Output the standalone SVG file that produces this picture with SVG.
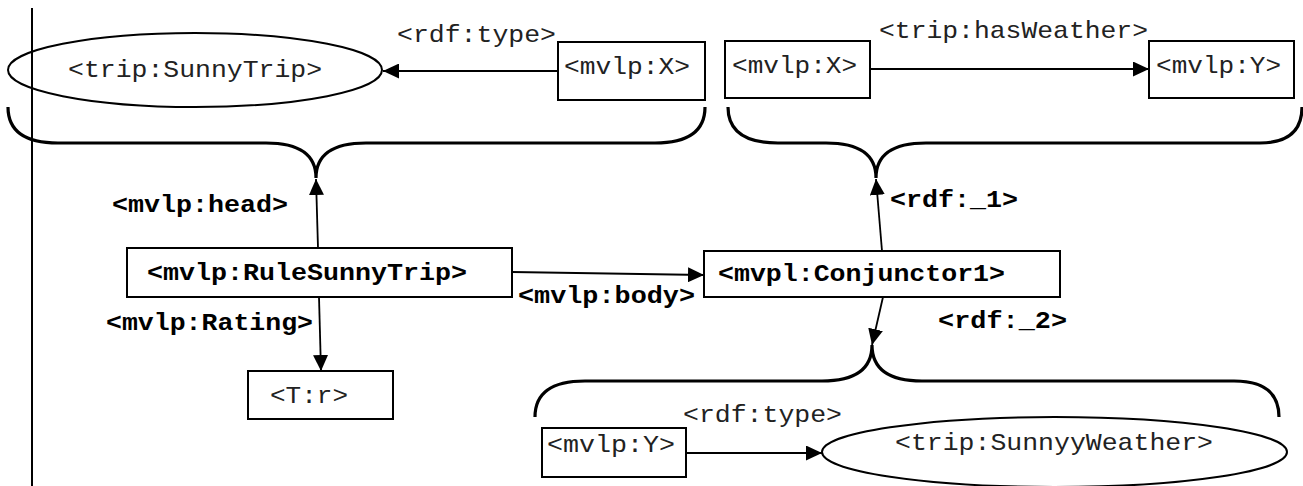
<svg xmlns="http://www.w3.org/2000/svg" width="1303" height="486" viewBox="0 0 1303 486">
  <style>
    .box { fill: #fff; stroke: #000; stroke-width: 2; }
    .ell { fill: none; stroke: #000; stroke-width: 2; }
    .brace { fill: none; stroke: #000; stroke-width: 3.2; stroke-linecap: butt; }
    .edge { fill: none; stroke: #000; stroke-width: 1.8; }
    .lit { font-family: "Liberation Mono", "Courier New", monospace; font-size: 24px; fill: #222; }
    .res { font-family: "Liberation Mono", "Courier New", monospace; font-size: 24px; font-weight: bold; fill: #000; }
  </style>
  <defs>
    <marker id="arrow" markerUnits="userSpaceOnUse" markerWidth="17" markerHeight="15" refX="16" refY="7.5" orient="auto">
      <path d="M0,0 L16,7.5 L0,15 z" fill="#000"/>
    </marker>
  </defs>

  <rect width="1303" height="486" fill="#fff"/>

  <!-- curly braces grouping the head and body statements -->
  <g id="braces">
    <path class="brace" d="M8 107 Q8 143 58 143 L266 143 Q316 143 316 178 Q316 143 366 143 L655 143 Q705 143 705 107"/>
    <path class="brace" d="M728 107 Q728 143 778 143 L826 143 Q876 143 876 178 Q876 143 926 143 L1260 143 Q1302 143 1302 107"/>
    <path class="brace" d="M535 417 Q535 381 585 381 L822 381 Q872 381 872 345 Q872 381 922 381 L1234 381 Q1279 381 1279 417"/>
  </g>

  <!-- connectors -->
  <g id="connectors">
    <line class="edge" x1="558" y1="71" x2="383" y2="71" marker-end="url(#arrow)"/>
    <line class="edge" x1="870" y1="69" x2="1149" y2="69" marker-end="url(#arrow)"/>
    <line class="edge" x1="318" y1="248" x2="316" y2="179" marker-end="url(#arrow)"/>
    <line class="edge" x1="512" y1="272" x2="704" y2="275" marker-end="url(#arrow)"/>
    <line class="edge" x1="319" y1="297" x2="321" y2="371" marker-end="url(#arrow)"/>
    <line class="edge" x1="882" y1="251" x2="876" y2="179" marker-end="url(#arrow)"/>
    <line class="edge" x1="883" y1="297" x2="872" y2="345" marker-end="url(#arrow)"/>
    <line class="edge" x1="686" y1="453" x2="822" y2="453" marker-end="url(#arrow)"/>
  </g>

  <!-- edge labels -->
  <g id="edge-labels">
    <text class="lit" x="397" y="42" textLength="159" lengthAdjust="spacingAndGlyphs">&lt;rdf:type&gt;</text>
    <text class="lit" x="879" y="38" textLength="269" lengthAdjust="spacingAndGlyphs">&lt;trip:hasWeather&gt;</text>
    <text class="res" x="112" y="212" textLength="176" lengthAdjust="spacingAndGlyphs">&lt;mvlp:head&gt;</text>
    <text class="res" x="106" y="330" textLength="207" lengthAdjust="spacingAndGlyphs">&lt;mvlp:Rating&gt;</text>
    <text class="res" x="518" y="303" textLength="177" lengthAdjust="spacingAndGlyphs">&lt;mvlp:body&gt;</text>
    <text class="res" x="890" y="207" textLength="128" lengthAdjust="spacingAndGlyphs">&lt;rdf:_1&gt;</text>
    <text class="res" x="938" y="328" textLength="129" lengthAdjust="spacingAndGlyphs">&lt;rdf:_2&gt;</text>
    <text class="lit" x="683" y="422" textLength="159" lengthAdjust="spacingAndGlyphs">&lt;rdf:type&gt;</text>
  </g>

  <g id="sunny-trip">
    <ellipse class="ell" cx="195" cy="70" rx="187" ry="37"/>
    <text class="lit" x="68" y="77" textLength="254" lengthAdjust="spacingAndGlyphs">&lt;trip:SunnyTrip&gt;</text>
  </g>

  <g id="head-x">
    <rect class="box" x="558" y="42" width="147" height="58"/>
    <text class="lit" x="564" y="74" textLength="126" lengthAdjust="spacingAndGlyphs">&lt;mvlp:X&gt;</text>
  </g>

  <g id="body-x">
    <rect class="box" x="725" y="41" width="145" height="57"/>
    <text class="lit" x="732" y="73" textLength="125" lengthAdjust="spacingAndGlyphs">&lt;mvlp:X&gt;</text>
  </g>

  <g id="body-y">
    <rect class="box" x="1149" y="41" width="145" height="57"/>
    <text class="lit" x="1156" y="73" textLength="125" lengthAdjust="spacingAndGlyphs">&lt;mvlp:Y&gt;</text>
  </g>

  <g id="rule">
    <rect class="box" x="127" y="248" width="385" height="49"/>
    <text class="res" x="147" y="280" textLength="320" lengthAdjust="spacingAndGlyphs">&lt;mvlp:RuleSunnyTrip&gt;</text>
  </g>

  <g id="rating">
    <rect class="box" x="248" y="371" width="145" height="48"/>
    <text class="lit" x="270" y="403" textLength="78" lengthAdjust="spacingAndGlyphs">&lt;T:r&gt;</text>
  </g>

  <g id="conjunctor">
    <rect class="box" x="704" y="251" width="356" height="46"/>
    <text class="res" x="718" y="281" textLength="287" lengthAdjust="spacingAndGlyphs">&lt;mvpl:Conjunctor1&gt;</text>
  </g>

  <g id="weather-y">
    <rect class="box" x="542" y="428" width="144" height="49"/>
    <text class="lit" x="547" y="452" textLength="128" lengthAdjust="spacingAndGlyphs">&lt;mvlp:Y&gt;</text>
  </g>

  <g id="sunny-weather">
    <ellipse class="ell" cx="1054.5" cy="452" rx="232.5" ry="35"/>
    <text class="lit" x="895" y="450" textLength="318" lengthAdjust="spacingAndGlyphs">&lt;trip:SunnyyWeather&gt;</text>
  </g>

  <!-- left margin rule, drawn over the shapes it crosses -->
  <line x1="32" y1="8" x2="32" y2="486" stroke="#000" stroke-width="2"/>
</svg>
